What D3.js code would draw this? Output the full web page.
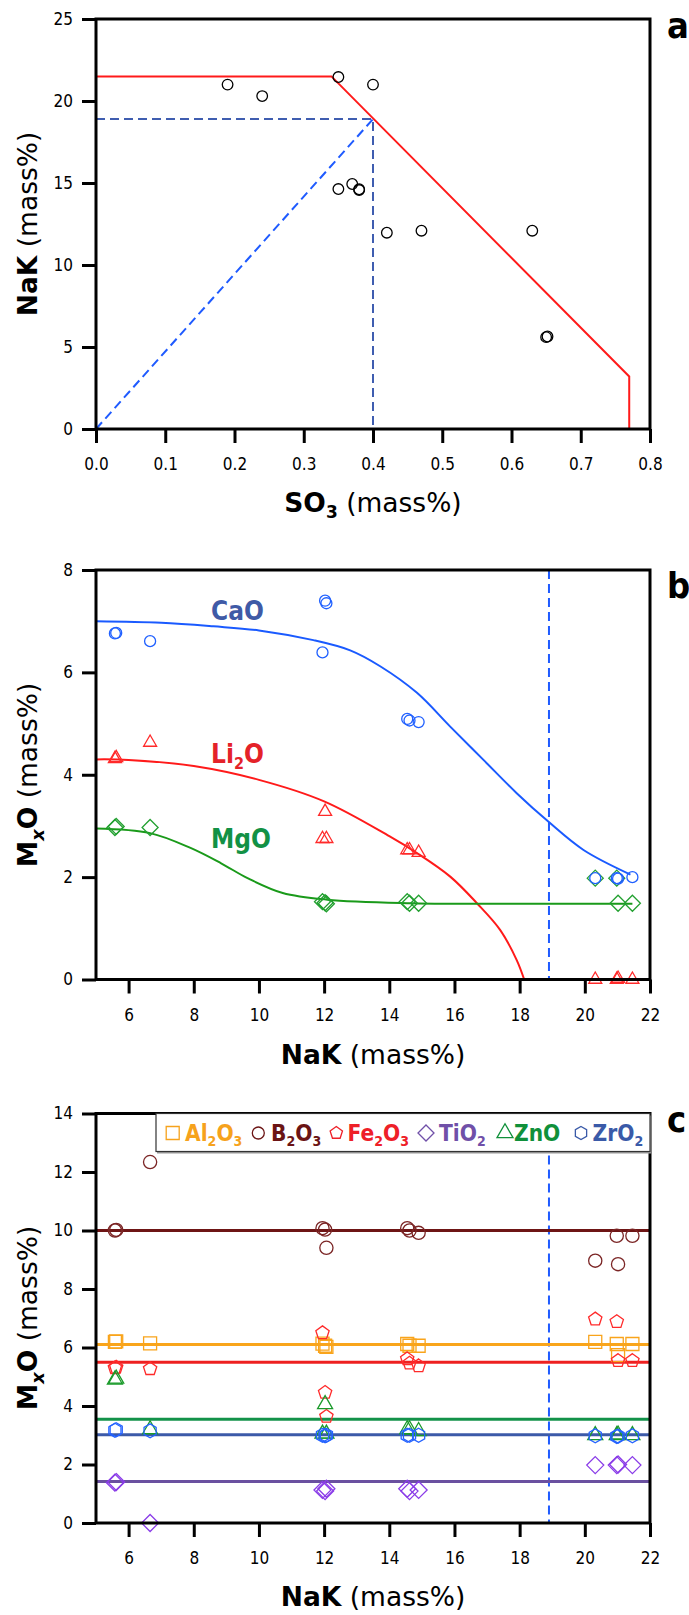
<!DOCTYPE html>
<html>
<head>
<meta charset="utf-8">
<script src="https://cdn.jsdelivr.net/npm/d3@7.9.0/dist/d3.min.js"></script>
<style>
  body { margin: 0; background: #fff; }
  svg { display: block; }
  .tick text { font-family: 'DejaVu Sans Condensed', 'DejaVu Sans', sans-serif; font-stretch: condensed; font-size: 17px; fill: #000; }
  .title { font-family: 'DejaVu Sans', sans-serif; font-size: 26.5px; fill: #000; }
  .cond { font-family: 'DejaVu Sans Condensed', 'DejaVu Sans', sans-serif; font-stretch: condensed; font-weight: bold; }
</style>
</head>
<body>
<svg id="fig" width="689" height="1615"></svg>
<script>
// ---- panel a : SO3 vs NaK ----
let so3A = [0.19, 0.24, 0.35, 0.40, 0.35, 0.37, 0.38, 0.38, 0.42, 0.47, 0.63, 0.65, 0.652];
let nakA = [21.0, 20.3, 21.46, 21.0, 14.63, 14.94, 14.57, 14.62, 11.97, 12.09, 12.09, 5.6, 5.64];
let limitLine = [[0, 21.5], [0.34, 21.5], [0.77, 3.2], [0.77, 0]];
let nakCrit = 18.9;
let so3Crit = 0.40;

// ---- panels b, c : oxides vs NaK (same 13 glasses) ----
let nak = [5.58, 5.62, 6.66, 11.95, 12.03, 12.07, 14.55, 14.62, 14.9, 20.32, 20.98, 21.02, 21.46];
let cao = [6.76, 6.77, 6.61, 6.39, 7.40, 7.35, 5.09, 5.06, 5.03, 1.98, 1.98, 1.97, 2.0];
let li2o = [4.31, 4.33, 4.63, 2.75, 3.28, 2.75, 2.53, 2.53, 2.48, 0, 0, 0.02, 0];
let mgo = [2.97, 2.99, 2.97, 1.52, 1.50, 1.48, 1.52, 1.49, 1.49, 1.98, 1.98, 1.49, 1.49];

let caoCurve = [[5, 7.0], [7, 6.97], [8.6, 6.9], [10, 6.82], [11.67, 6.63], [12.8, 6.43], [13.72, 6.12],
  [14.85, 5.6], [15.87, 4.94], [16.89, 4.29], [17.91, 3.64], [18.87, 3.09], [19.96, 2.53], [21.4, 2.05]];
let li2oCurve = [[5, 4.3], [6, 4.29], [8, 4.17], [10, 3.9], [12, 3.48], [14, 2.8], [14.85, 2.47],
  [15.87, 2.01], [16.69, 1.49], [17.4, 0.97], [17.91, 0.38], [18.14, 0]];
let mgoCurve = [[5, 2.95], [6.66, 2.86], [7.9, 2.57], [8.84, 2.27], [9.65, 1.98], [10.73, 1.69], [12.1, 1.56],
  [14.67, 1.49], [16, 1.48], [21.46, 1.48]];

let al2o3 = [6.19, 6.21, 6.14, 6.13, 6.06, 6.02, 6.12, 6.06, 6.06, 6.19, 6.12, 5.74, 6.12];
let b2o3 = [10.0, 10.02, 12.34, 10.08, 10.03, 9.41, 10.08, 10.0, 9.92, 8.97, 9.82, 8.85, 9.82];
let fe2o3 = [5.30, 5.32, 5.27, 6.50, 4.46, 3.64, 5.61, 5.46, 5.37, 6.97, 6.88, 5.55, 5.55];
let tio2 = [1.38, 1.40, 0.0, 1.13, 1.09, 1.17, 1.17, 1.09, 1.13, 1.98, 1.98, 2.0, 1.98];
let zno = [4.90, 4.93, 3.20, 3.05, 4.06, 3.05, 3.20, 3.20, 3.14, 3.0, 3.0, 3.02, 3.0];
let zro2 = [3.17, 3.19, 3.15, 3.0, 2.98, 3.0, 3.0, 3.0, 3.0, 2.98, 2.96, 2.97, 2.98];
let oxideMeans = [6.1, 10.0, 5.5, 1.42, 3.55, 3.02];

let xTicksA = [0, 0.1, 0.2, 0.3, 0.4, 0.5, 0.6, 0.7, 0.8];
let yTicksA = [0, 5, 10, 15, 20, 25];
let xTicksBC = [6, 8, 10, 12, 14, 16, 18, 20, 22];
let yTicksB = [0, 2, 4, 6, 8];
let yTicksC = [0, 2, 4, 6, 8, 10, 12, 14];

const svg = d3.select('#fig');
const L = 96, R = 650;

function poly(n, r, rot) {
  let pts = d3.range(n).map(i => {
    let a = rot + i * 2 * Math.PI / n;
    return [r * Math.cos(a), r * Math.sin(a)];
  });
  return 'M' + pts.map(p => p.join(',')).join('L') + 'Z';
}
const shapes = {
  circle: s => d3.symbol(d3.symbolCircle, Math.PI * s * s)(),
  square: s => d3.symbol(d3.symbolSquare, s * s)(),
  triangle: s => d3.symbol(d3.symbolTriangle, s * s * Math.sqrt(3) / 4)(),
  diamond: s => `M0,${-s / 2}L${s / 2},0L0,${s / 2}L${-s / 2},0Z`,
  pentagon: s => poly(5, s, -Math.PI / 2),
  hexagon: s => poly(6, s, -Math.PI / 2)
};

function frame(g, x, y, xt, yt, fmt) {
  let [y0, y1] = y.range();
  g.append('g').attr('transform', `translate(0,${y0})`)
    .call(d3.axisBottom(x).tickValues(xt).tickFormat(fmt).tickSize(14).tickSizeOuter(0).tickPadding(15))
    .call(a => a.select('.domain').remove());
  g.append('g').attr('transform', `translate(${L},0)`)
    .call(d3.axisLeft(y).tickValues(yt).tickSize(14).tickSizeOuter(0).tickPadding(9))
    .call(a => a.select('.domain').remove());
  g.selectAll('.tick line').attr('stroke', '#000').attr('stroke-width', 3);
}
function border(g, y) {
  let [y0, y1] = y.range();
  g.append('rect').attr('x', L).attr('y', y1).attr('width', R - L).attr('height', y0 - y1)
    .attr('fill', 'none').attr('stroke', '#000').attr('stroke-width', 3);
}
function panelLetter(t, yb) {
  svg.append('text').attr('x', 667).attr('y', yb).attr('class', 'cond')
    .style('font-size', '36px').text(t);
}
function xTitle(parts, yb) {
  let t = svg.append('text').attr('class', 'title').attr('x', (L + R) / 2).attr('y', yb).attr('text-anchor', 'middle');
  parts(t);
}
function yTitle(parts, cy) {
  let t = svg.append('text').attr('class', 'title').attr('text-anchor', 'middle')
    .attr('transform', `translate(37,${cy}) rotate(-90)`);
  parts(t);
}
const nakTitle = t => {
  t.append('tspan').attr('font-weight', 'bold').text('NaK');
  t.append('tspan').text(' (mass%)');
};
const mxoTitle = t => {
  t.append('tspan').attr('font-weight', 'bold').text('M');
  t.append('tspan').attr('font-weight', 'bold').attr('font-style', 'italic').attr('font-size', '18px').attr('dy', 7).text('x');
  t.append('tspan').attr('font-weight', 'bold').attr('dy', -7).text('O');
  t.append('tspan').text(' (mass%)');
};
function dashed(g, pts, color) {
  g.append('path').attr('d', d3.line()(pts)).attr('fill', 'none')
    .attr('stroke', color).attr('stroke-width', 2).attr('stroke-dasharray', '9,5');
}
function markers(g, xs, ys, shape, size, color, x, y) {
  g.append('g').selectAll('path').data(xs.map((v, i) => [v, ys[i]])).join('path')
    .attr('transform', d => `translate(${x(d[0])},${y(d[1])})`)
    .attr('d', shapes[shape](size)).attr('fill', 'none')
    .attr('stroke', color).attr('stroke-width', 1.3);
}

// ===== panel a =====
{
  let x = d3.scaleLinear().domain([0, 0.8]).range([L, R]);
  let y = d3.scaleLinear().domain([0, 25]).range([429, 19]);
  let g = svg.append('g');
  frame(g, x, y, xTicksA, yTicksA, d3.format('.1f'));
  g.append('path').attr('d', d3.line().x(d => x(d[0])).y(d => y(d[1]))(limitLine))
    .attr('fill', 'none').attr('stroke', '#ff1a1a').attr('stroke-width', 2);
  dashed(g, [[x(0), y(nakCrit)], [x(so3Crit), y(nakCrit)], [x(so3Crit), y(0)]], '#3f5db0');
  dashed(g, [[x(0), y(0)], [x(so3Crit), y(nakCrit)]], '#1f5bff');
  markers(g, so3A, nakA, 'circle', 5.3, '#000', x, y);
  border(g, y);
  panelLetter('a', 38);
  xTitle(t => {
    t.append('tspan').attr('font-weight', 'bold').text('SO');
    t.append('tspan').attr('font-weight', 'bold').attr('font-size', '17px').attr('dy', 6).text('3');
    t.append('tspan').attr('dy', -6).text(' (mass%)');
  }, 512);
  yTitle(nakTitle, 224);
}

// ===== panel b =====
{
  let x = d3.scaleLinear().domain([5, 22]).range([L, R]);
  let y = d3.scaleLinear().domain([0, 8]).range([979.5, 570]);
  let g = svg.append('g');
  frame(g, x, y, xTicksBC, yTicksB, d3.format('d'));
  dashed(g, [[x(nakCrit), y(8)], [x(nakCrit), y(0)]], '#1f5bff');
  let line = d3.line().x(d => x(d[0])).y(d => y(d[1])).curve(d3.curveCatmullRom.alpha(0.5));
  [[caoCurve, '#1a5aff'], [li2oCurve, '#ff1a1a'], [mgoCurve, '#1a9a1a']].forEach(([c, col]) =>
    g.append('path').attr('d', line(c)).attr('fill', 'none').attr('stroke', col).attr('stroke-width', 2));
  markers(g, nak, mgo, 'diamond', 16, '#22a030', x, y);
  markers(g, nak, li2o, 'triangle', 13, '#ff2a2a', x, y);
  markers(g, nak, cao, 'circle', 5.5, '#2060ff', x, y);
  border(g, y);
  let lab = (txt, sub, rest, col, yb) => {
    let t = svg.append('text').attr('class', 'cond').attr('x', 211).attr('y', yb)
      .style('font-size', '26px').attr('fill', col).text(txt);
    if (sub) {
      t.append('tspan').attr('font-size', '16px').attr('dy', 6).text(sub);
      t.append('tspan').attr('dy', -6).text(rest);
    }
  };
  lab('CaO', null, null, '#3f5aa6', 620);
  lab('Li', '2', 'O', '#e42229', 763);
  lab('MgO', null, null, '#129145', 848);
  panelLetter('b', 598);
  xTitle(nakTitle, 1064);
  yTitle(mxoTitle, 775);
}

// ===== panel c =====
{
  let x = d3.scaleLinear().domain([5, 22]).range([L, R]);
  let y = d3.scaleLinear().domain([0, 14]).range([1523, 1113.5]);
  let g = svg.append('g');
  frame(g, x, y, xTicksBC, yTicksC, d3.format('d'));
  dashed(g, [[x(nakCrit), y(14)], [x(nakCrit), y(0)]], '#1f5bff');
  let oxides = [
    { name: 'Al', sub1: '2', mid: 'O', sub2: '3', vals: al2o3, shape: 'square', size: 13, mk: '#f9a41b', ln: '#f9a51b', tx: '#f6a21c' },
    { name: 'B', sub1: '2', mid: 'O', sub2: '3', vals: b2o3, shape: 'circle', size: 6.6, mk: '#7b2525', ln: '#6e1515', tx: '#6b1414' },
    { name: 'Fe', sub1: '2', mid: 'O', sub2: '3', vals: fe2o3, shape: 'pentagon', size: 7, mk: '#ff2a2a', ln: '#ee2020', tx: '#ee2028' },
    { name: 'TiO', sub1: '2', mid: '', sub2: '', vals: tio2, shape: 'diamond', size: 17, mk: '#8a3ce8', ln: '#6a50a0', tx: '#7050a8' },
    { name: 'ZnO', sub1: '', mid: '', sub2: '', vals: zno, shape: 'triangle', size: 15, mk: '#1a9a2a', ln: '#13924a', tx: '#10903a' },
    { name: 'ZrO', sub1: '2', mid: '', sub2: '', vals: zro2, shape: 'hexagon', size: 7, mk: '#2563ff', ln: '#3c5aa8', tx: '#3a5aa8' }
  ];
  oxides.forEach((o, i) => {
    g.append('line').attr('x1', x(5)).attr('x2', x(22)).attr('y1', y(oxideMeans[i])).attr('y2', y(oxideMeans[i]))
      .attr('stroke', o.ln).attr('stroke-width', 3);
  });
  oxides.forEach(o => markers(g, nak, o.vals, o.shape, o.size, o.mk, x, y));
  // legend
  let lg = svg.append('g');
  lg.append('rect').attr('x', 157).attr('y', 1115.5).attr('width', 494).attr('height', 38).attr('fill', '#999');
  lg.append('rect').attr('x', 156).attr('y', 1113.5).attr('width', 494).attr('height', 38)
    .attr('fill', '#fff').attr('stroke', '#333').attr('stroke-width', 1.2);
  let symX = [172.7, 258.3, 336.3, 426, 505, 581];
  let txtX = [185, 271, 347.5, 439, 514, 592.5];
  let legSize = [13, 6, 6.5, 16, 16, 6.5];
  oxides.forEach((o, i) => {
    lg.append('path').attr('transform', `translate(${symX[i]},1133)`).attr('d', shapes[o.shape](legSize[i]))
      .attr('fill', 'none').attr('stroke', o.tx).attr('stroke-width', 1.3);
    let t = lg.append('text').attr('class', 'cond').attr('x', txtX[i]).attr('y', 1140.5)
      .style('font-size', '22.5px').attr('fill', o.tx).text(o.name);
    if (o.sub1) t.append('tspan').attr('font-size', '14px').attr('dy', 5).text(o.sub1);
    if (o.mid) t.append('tspan').attr('dy', -5).text(o.mid);
    if (o.sub2) t.append('tspan').attr('font-size', '14px').attr('dy', 5).text(o.sub2);
  });
  border(g, y);
  panelLetter('c', 1132);
  xTitle(nakTitle, 1606);
  yTitle(mxoTitle, 1318);
}
</script>
</body>
</html>
